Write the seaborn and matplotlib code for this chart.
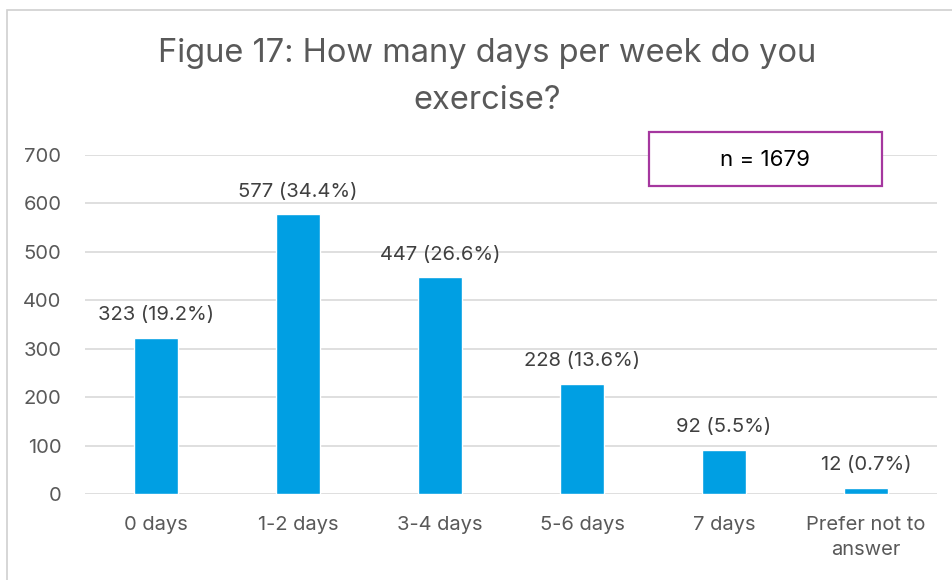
import matplotlib.pyplot as plt
import seaborn as sns
import pandas as pd
from matplotlib.patches import Rectangle

categories = ["0 days", "1-2 days", "3-4 days", "5-6 days", "7 days", "Prefer not to\nanswer"]
counts = [323, 577, 447, 228, 92, 12]
percents = [19.2, 34.4, 26.6, 13.6, 5.5, 0.7]
y_ticks = [0, 100, 200, 300, 400, 500, 600, 700]

df = pd.DataFrame({"category": categories, "count": counts})

sns.set_theme(style="whitegrid")
plt.rcParams['font.family'] = ['Inter', 'DejaVu Sans']

fig = plt.figure(figsize=(9.52, 5.8), dpi=100)
ax = fig.add_axes([0.0893, 0.148, 0.895, 0.585])

sns.barplot(data=df, x="category", y="count", color="#009FE3", width=0.31,
            saturation=1, ax=ax)

for i, (c, p) in enumerate(zip(counts, percents)):
    ax.annotate(f"{c} ({p}%)", (i, c), xytext=(0, 10), textcoords="offset points",
                ha="center", va="bottom", fontsize=14.5, color="#404040")

ax.set_ylim(0, 700)
ax.set_yticks(y_ticks)
ax.set_xlim(-0.5, len(categories) - 0.5)
ax.set_xlabel("")
ax.set_ylabel("")
ax.grid(axis="x", visible=False)
ax.grid(axis="y", color="#d9d9d9", linewidth=1.2)
ax.set_axisbelow(True)
for s in ax.spines.values():
    s.set_visible(False)
ax.tick_params(axis="both", length=0, labelsize=14.5, labelcolor="#595959")
ax.tick_params(axis="y", pad=17)
ax.tick_params(axis="x", pad=16)
for lbl in ax.get_xticklabels():
    lbl.set_linespacing(1.5)

fig.text(0.512, 0.908, "Figue 17: How many days per week do you", ha="center",
         va="center", fontsize=23.5, color="#595959")
fig.text(0.512, 0.826, "exercise?", ha="center", va="center", fontsize=23.5,
         color="#595959")

# n box
fig.patches.append(Rectangle((649 / 952, 1 - 186 / 580), 233 / 952, 54 / 580,
                             transform=fig.transFigure, fill=True, facecolor="white",
                             edgecolor="#A5379F", linewidth=1.6, zorder=5))
fig.text(765 / 952, 1 - 160 / 580, "n = 1679", ha="center", va="center",
         fontsize=16, color="black", zorder=6)

# outer frame
fig.patches.append(Rectangle((7 / 952, -0.05), 1.1, 1 - 10 / 580 + 0.05,
                             transform=fig.transFigure, fill=False,
                             edgecolor="#d0d0d0", linewidth=1.2))

fig.savefig("out.png", dpi=100)
